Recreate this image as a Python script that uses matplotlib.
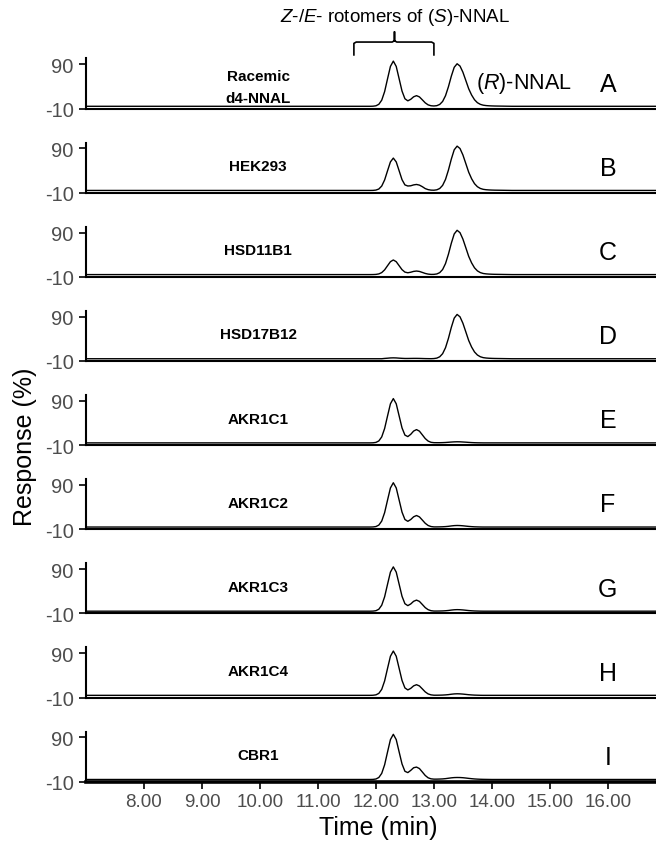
import numpy as np
import matplotlib
matplotlib.use("Agg")
from matplotlib import pyplot as plt

plt.rcParams['font.family'] = ['Liberation Sans', 'DejaVu Sans']
plt.rcParams['mathtext.fontset'] = 'custom'
plt.rcParams['mathtext.rm'] = 'Liberation Sans'
plt.rcParams['mathtext.it'] = 'Liberation Sans:italic'
plt.rcParams['axes.unicode_minus'] = False

# retention time grid (min)
time_min = [7.00, 11.80, 11.85, 11.90, 11.95, 12.00, 12.05, 12.10, 12.15, 12.20, 12.25,
            12.30, 12.35, 12.40, 12.45, 12.50, 12.55, 12.60, 12.65, 12.70, 12.75, 12.80,
            12.85, 12.90, 12.95, 13.00, 13.05, 13.10, 13.15, 13.20, 13.25, 13.30, 13.35,
            13.40, 13.45, 13.50, 13.55, 13.60, 13.65, 13.70, 13.75, 13.80, 13.85, 13.90,
            13.95, 14.00, 14.05, 14.10, 14.15, 14.20, 14.25, 14.30, 14.35, 14.40, 16.85]

baseline = -5  # trace baseline, response %

# response above baseline (%), one list per sample
resp_A = [0, 0, 0, 0, 0.2, 1.1, 4.5, 13.8, 33.2, 61.9, 90.0, 102, 90.0, 62.2, 34.3, 17.0, 12.3,
          15.7, 21.4, 24.0, 21.2, 14.6, 7.8, 3.2, 1.2, 0.7, 1.4, 4.2, 10.9, 23.9, 44.0, 67.9,
          88.0, 96.0, 90.8, 76.9, 58.3, 39.5, 25.4, 14.8, 8.1, 4.4, 2.5, 1.6, 1.1, 0.8, 0.6,
          0.5, 0.4, 0.3, 0.2, 0.1, 0, 0, 0]
resp_B = [0, 0, 0, 0, 0.1, 0.8, 3.2, 9.9, 23.7, 44.3, 64.4, 73, 64.4, 44.4, 24.3, 12.5, 10.0,
          10.5, 12.5, 13.5, 12.0, 8.5, 4.2, 1.8, 0.7, 0.5, 1.4, 4.4, 11.4, 24.9, 45.8, 70.7,
          91.7, 100, 94.6, 80.1, 60.7, 41.1, 26.4, 15.3, 8.4, 4.5, 2.5, 1.6, 1.1, 0.8, 0.6,
          0.5, 0.4, 0.3, 0.2, 0.1, 0, 0, 0]
resp_C = [0, 0, 0, 0, 0.1, 0.4, 1.5, 4.5, 10.7, 20.0, 29.1, 33, 29.1, 20.1, 11.1, 5.6, 4.1,
          5.3, 7.2, 8.0, 7.1, 4.9, 2.6, 1.1, 0.4, 0.5, 1.4, 4.4, 11.4, 24.9, 45.8, 70.7,
          91.7, 100, 94.6, 80.1, 60.7, 41.1, 26.4, 15.3, 8.4, 4.5, 2.5, 1.6, 1.1, 0.8, 0.6,
          0.5, 0.4, 0.3, 0.2, 0.1, 0, 0, 0]
resp_D = [0, 0, 0, 0, 0, 0, 0, 0, 0.7, 1.2, 1.8, 2.0, 1.8, 1.3, 0.9, 0.6, 0.6,
          0.7, 0.8, 0.8, 0.7, 0.5, 0.3, 0.2, 0.1, 0.4, 1.4, 4.4, 11.4, 24.9, 45.8, 70.7,
          91.7, 100, 94.6, 80.1, 60.7, 41.1, 26.4, 15.3, 8.4, 4.5, 2.5, 1.6, 1.1, 0.8, 0.6,
          0.5, 0.4, 0.3, 0.2, 0.1, 0, 0, 0]
resp_E = [0, 0, 0, 0, 0.2, 1.1, 4.4, 13.5, 32.5, 60.7, 88.2, 100, 88.3, 61.0, 33.8, 17.6, 14.2,
          19.3, 26.7, 30.0, 26.5, 18.2, 9.8, 4.1, 1.3, 0.5, 0.4, 0.4, 0.6, 0.9, 1.4, 1.9,
          2.3, 2.5, 2.4, 2.0, 1.6, 1.1, 0.7, 0.4, 0.2, 0.1, 0, 0, 0, 0, 0,
          0, 0, 0, 0, 0, 0, 0, 0]
resp_F = [0, 0, 0, 0, 0.2, 1.1, 4.4, 13.5, 32.5, 60.7, 88.2, 100, 88.3, 61.0, 33.6, 17.0, 12.9,
          16.9, 23.1, 26.0, 22.9, 15.8, 8.5, 3.5, 1.1, 0.3, 0.3, 0.4, 0.6, 1.0, 1.6, 2.5,
          3.2, 3.5, 3.3, 2.8, 2.1, 1.4, 0.9, 0.5, 0.3, 0.1, 0, 0, 0, 0, 0,
          0, 0, 0, 0, 0, 0, 0, 0]
resp_G = [0, 0, 0, 0, 0.2, 1.1, 4.4, 13.5, 32.5, 60.7, 88.2, 100, 88.3, 61.0, 33.6, 16.9, 12.5,
          16.3, 22.3, 25.0, 22.1, 15.2, 8.1, 3.4, 1.1, 0.3, 0.3, 0.4, 0.6, 1.0, 1.6, 2.5,
          3.2, 3.5, 3.3, 2.8, 2.1, 1.4, 0.9, 0.5, 0.3, 0.1, 0, 0, 0, 0, 0,
          0, 0, 0, 0, 0, 0, 0, 0]
resp_H = [0, 0, 0, 0, 0.2, 1.1, 4.4, 13.5, 32.5, 60.7, 88.2, 100, 88.3, 61.0, 33.6, 16.7, 12.2,
          15.7, 21.4, 24.0, 21.2, 14.6, 7.8, 3.2, 1.1, 0.3, 0.3, 0.4, 0.6, 1.0, 1.6, 2.5,
          3.2, 3.5, 3.3, 2.8, 2.1, 1.4, 0.9, 0.5, 0.3, 0.1, 0, 0, 0, 0, 0,
          0, 0, 0, 0, 0, 0, 0, 0]
resp_I = [0, 0, 0, 0, 0.2, 1.1, 4.5, 13.8, 33.2, 61.9, 90.0, 102, 90.0, 62.3, 35.0, 18.5, 15.5,
          20.5, 26.5, 28.0, 24.7, 17.0, 9.1, 3.8, 1.5, 0.8, 0.8, 1.0, 1.3, 1.9, 2.8, 3.7,
          4.3, 4.5, 4.4, 4.0, 3.3, 2.5, 1.8, 1.2, 0.8, 0.5, 0.3, 0.2, 0.1, 0, 0,
          0, 0, 0, 0, 0, 0, 0, 0]

responses = [resp_A, resp_B, resp_C, resp_D, resp_E, resp_F, resp_G, resp_H, resp_I]
samples = ['Racemic\nd4-NNAL', 'HEK293', 'HSD11B1', 'HSD17B12', 'AKR1C1', 'AKR1C2',
           'AKR1C3', 'AKR1C4', 'CBR1']
letters = ['A', 'B', 'C', 'D', 'E', 'F', 'G', 'H', 'I']
x_ticks = [8, 9, 10, 11, 12, 13, 14, 15, 16]
y_ticks = [90, -10]

W, H = 656, 845
fig = plt.figure(figsize=(W / 100, H / 100), dpi=100)

px_unit = 0.443
ymin, ymax = -10, 103
ax_h = (ymax - ymin) * px_unit
tick_gray = '#4d4d4d'

axes = []
for i, resp in enumerate(responses):
    bottom_px = 109.5 + 84.15 * i
    ax = fig.add_axes([86 / W, 1 - bottom_px / H, 570 / W, ax_h / H])
    ax.plot(time_min, baseline + np.array(resp), color='black', lw=1.0)
    ax.set_xlim(7.0, 16.83)
    ax.set_ylim(ymin, ymax)
    ax.spines['top'].set_visible(False)
    ax.spines['right'].set_visible(False)
    ax.spines['left'].set_linewidth(1.5)
    ax.spines['bottom'].set_linewidth(1.5 if i < 8 else 2.6)
    ax.set_yticks(y_ticks)
    ax.set_yticklabels([str(v) for v in y_ticks])
    ax.tick_params(axis='y', length=5, width=1.2, labelsize=14.5, labelcolor=tick_gray, pad=4)
    if i < 8:
        ax.set_xticks([])
    else:
        ax.set_xticks(x_ticks)
        ax.set_xticklabels(['%.2f' % v for v in x_ticks])
        ax.tick_params(axis='x', length=5, width=1.2, labelsize=13.5, labelcolor=tick_gray, pad=3)
    if i == 0:
        ax.text(9.97, 38, samples[i], ha='center', va='center', fontsize=11,
                fontweight='bold', linespacing=1.7)
    else:
        ax.text(9.97, 50, samples[i], ha='center', va='center', fontsize=11,
                fontweight='bold')
    ax.text(16.0, 46, letters[i], ha='center', va='center', fontsize=18)
    axes.append(ax)

# annotations on the racemic standard
axA = axes[0]
axA.text(14.55, 48, r'($\it{R}$)-NNAL', ha='center', va='center', fontsize=15.5)
axA.text(12.32, 198, r'$\it{Z}$-/$\it{E}$- rotomers of ($\it{S}$)-NNAL', ha='center',
         va='center', fontsize=13.5, clip_on=False)
b0, b1, bm = 11.62, 13.0, 12.32
bx = [b0, b0, b0 + 0.04, bm - 0.04, bm, bm, bm, bm + 0.04, b1 - 0.04, b1, b1]
by = [111, 137, 140, 140, 143, 163, 143, 140, 140, 137, 111]
axA.plot(bx, by, color='black', lw=1.2, clip_on=False)

fig.text(25 / W, 1 - 447 / H, 'Response (%)', rotation=90, ha='center', va='center', fontsize=18)
fig.text(378 / W, 1 - 828 / H, 'Time (min)', ha='center', va='center', fontsize=18)

fig.savefig('out.png', dpi=100)
